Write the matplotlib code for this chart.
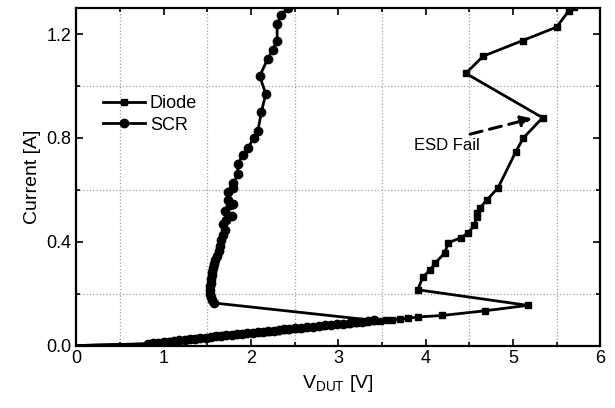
import matplotlib
matplotlib.use("Agg")
import matplotlib.pyplot as plt
from matplotlib.ticker import MultipleLocator

plt.rcParams['font.family'] = ['Liberation Sans', 'DejaVu Sans']

# SCR (circles): trigger branch, then holding branch after snapback
scr_v = [0.0, 0.82, 0.88, 0.94, 1.00, 1.06, 1.12, 1.18, 1.24, 1.30, 1.36, 1.42, 1.48, 1.54,
         1.60, 1.66, 1.72, 1.78, 1.84, 1.90, 1.96, 2.02, 2.08, 2.14, 2.20, 2.26, 2.32,
         2.38, 2.44, 2.50, 2.57, 2.64, 2.71, 2.78, 2.85, 2.92, 2.99, 3.06, 3.13, 3.20,
         3.27, 3.34, 3.41,
         1.58, 1.55, 1.54, 1.53, 1.53, 1.53, 1.54, 1.54, 1.55, 1.56, 1.57,
         1.58, 1.59, 1.61, 1.63, 1.65, 1.66, 1.68, 1.70, 1.68, 1.72,
         1.78, 1.70, 1.76, 1.80, 1.74, 1.74, 1.80, 1.80, 1.85, 1.85, 1.91,
         1.97, 2.03, 2.08, 2.12, 2.17, 2.10, 2.19, 2.25, 2.30, 2.30, 2.35,
         2.42]
scr_i = [0.0, 0.006, 0.008, 0.010, 0.012, 0.015, 0.017, 0.020, 0.022, 0.024, 0.026, 0.029,
         0.031, 0.033, 0.035, 0.038, 0.040, 0.042, 0.044, 0.046, 0.048, 0.050, 0.052, 0.054,
         0.056, 0.058, 0.060, 0.062, 0.064, 0.066, 0.068, 0.070, 0.073, 0.075, 0.078,
         0.080, 0.083, 0.085, 0.087, 0.089, 0.091, 0.094, 0.097,
         0.164, 0.175, 0.188, 0.200, 0.214, 0.228, 0.242, 0.256, 0.270, 0.285, 0.300,
         0.315, 0.330, 0.345, 0.365, 0.385, 0.405, 0.425, 0.445, 0.470, 0.485,
         0.500, 0.520, 0.540, 0.545, 0.560, 0.590, 0.607, 0.627, 0.660, 0.700, 0.735,
         0.762, 0.800, 0.828, 0.900, 0.970, 1.038, 1.103, 1.140, 1.174, 1.240, 1.275,
         1.300]

# Diode (squares)
diode_v = [0.0, 0.90, 1.00, 1.10, 1.20, 1.30, 1.40, 1.50, 1.60, 1.70, 1.80, 1.90, 2.00,
           2.10, 2.20, 2.30, 2.40, 2.50, 2.60, 2.70, 2.80, 2.90, 3.00, 3.10, 3.20, 3.30,
           3.40, 3.48, 3.55, 3.62, 3.71, 3.80, 3.91, 4.19, 4.68, 5.17,
           3.91, 3.97, 4.05, 4.11, 4.22, 4.26, 4.40, 4.49, 4.56, 4.59, 4.59, 4.62, 4.70,
           4.83, 5.03, 5.12, 5.34, 4.46, 4.66, 5.11, 5.50, 5.64, 5.70]
diode_i = [0.0, 0.008, 0.012, 0.016, 0.020, 0.024, 0.028, 0.031, 0.035, 0.039, 0.042,
           0.045, 0.048, 0.051, 0.054, 0.058, 0.061, 0.064, 0.068, 0.071, 0.075, 0.078,
           0.082, 0.085, 0.088, 0.091, 0.094, 0.096, 0.098, 0.100, 0.102, 0.105, 0.110,
           0.116, 0.134, 0.155,
           0.215, 0.265, 0.290, 0.318, 0.357, 0.396, 0.415, 0.434, 0.466, 0.497, 0.510,
           0.530, 0.560, 0.608, 0.745, 0.800, 0.878, 1.049, 1.115, 1.175, 1.227,
           1.290, 1.305]

fig = plt.figure(figsize=(6.15, 4.08), dpi=100)
ax = fig.add_axes([0.124, 0.153, 0.852, 0.827])

ax.plot(diode_v, diode_i, color='black', lw=2.0, marker='s', ms=5,
        markevery=list(range(1, len(diode_v))), label='Diode', zorder=3)
ax.plot(scr_v, scr_i, color='black', lw=2.0, marker='o', ms=6,
        markevery=list(range(1, len(scr_v))), label='SCR', zorder=3)

ax.set_xlim(0, 6)
ax.set_ylim(0, 1.3)
ax.xaxis.set_major_locator(MultipleLocator(1))
ax.xaxis.set_minor_locator(MultipleLocator(0.5))
ax.yaxis.set_major_locator(MultipleLocator(0.4))
ax.yaxis.set_minor_locator(MultipleLocator(0.2))
ax.yaxis.set_major_formatter(plt.FormatStrFormatter('%.1f'))
ax.grid(which='minor', color='#a0a0a0', linestyle=':', linewidth=0.9)
ax.grid(which='major', visible=False)
ax.tick_params(which='both', direction='in', top=True, right=True, labelsize=13, width=1.2)
ax.tick_params(which='major', length=5)
ax.tick_params(which='minor', length=3)
for s in ax.spines.values():
    s.set_linewidth(1.6)

ax.set_xlabel('V$_{\\mathregular{DUT}}$ [V]', fontsize=14, labelpad=4)
ax.set_ylabel('Current [A]', fontsize=14, labelpad=4)

ax.legend(loc='upper left', bbox_to_anchor=(0.02, 0.79), frameon=False, fontsize=13,
          handlelength=2.3, handletextpad=0.3, labelspacing=0.25)

ax.annotate('', xy=(5.25, 0.878), xytext=(4.48, 0.812),
            arrowprops=dict(arrowstyle='-|>', linestyle=(0, (4, 2.5)), lw=2.2,
                            color='black', mutation_scale=16))
ax.text(4.24, 0.77, 'ESD Fail', fontsize=12, ha='center', va='center')

fig.savefig('out.png', dpi=100)
